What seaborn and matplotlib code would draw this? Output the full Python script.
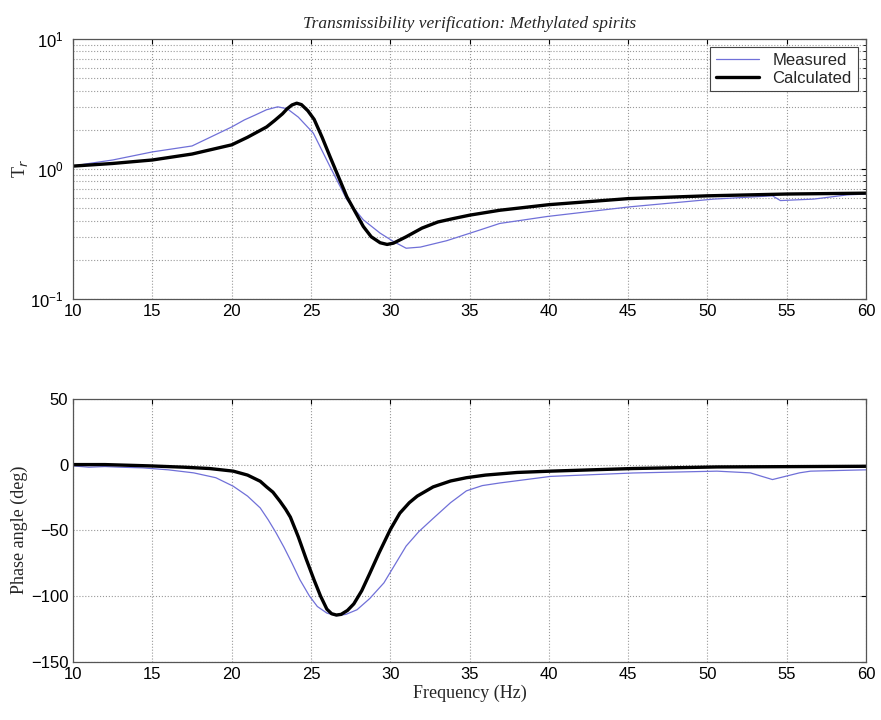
import numpy as np
import pandas as pd
import matplotlib as mpl
mpl.use('Agg')
import matplotlib.pyplot as plt
import seaborn as sns

# transmissibility magnitude
meas_f = [10, 11, 12.5, 15, 17.5, 20, 20.8, 21.5, 22.2, 22.9, 23.5, 24.2, 25.15, 26.2, 27.26, 28.3,
          29.36, 30.2, 31.0, 31.9, 33.56, 35.7, 36.9, 39.9, 45.1, 50.4, 54.1, 54.6, 56.7, 58.8, 60]
meas_T = [1.05, 1.1, 1.17, 1.35, 1.5, 2.1, 2.38, 2.6, 2.85, 3.0, 2.9, 2.5, 1.88, 1.04, 0.58, 0.405,
          0.32, 0.276, 0.245, 0.25, 0.28, 0.34, 0.38, 0.43, 0.51, 0.585, 0.62, 0.57, 0.585, 0.63, 0.64]
calc_f = [10, 12.5, 15, 17.5, 20, 21, 22.2, 22.7, 23.2, 23.5, 23.8, 24.1, 24.4, 24.8, 25.2, 25.7,
          26.2, 27.26, 28.3, 28.8, 29.36, 29.8, 30.2, 31, 32, 33, 34, 35, 36.9, 40, 45, 50, 55, 60]
calc_T = [1.05, 1.1, 1.17, 1.3, 1.53, 1.75, 2.1, 2.35, 2.65, 2.9, 3.1, 3.2, 3.12, 2.8, 2.4, 1.75,
          1.24, 0.61, 0.36, 0.3, 0.27, 0.262, 0.268, 0.3, 0.35, 0.39, 0.415, 0.44, 0.48, 0.53,
          0.59, 0.62, 0.64, 0.65]

# phase angle
meas_pf = [10, 11, 12, 13, 14.4, 16, 17.6, 19, 20.1, 21, 21.8, 22.3, 22.8, 23.3, 23.8, 24.3, 24.9,
           25.4, 26.0, 26.6, 27.2, 27.9, 28.7, 29.6, 30.3, 31.0, 31.8, 32.7, 33.8, 34.8, 35.8, 36.9,
           40.1, 45.3, 50.6, 52.7, 54.1, 55.8, 56.5, 60]
meas_ph = [-1, -2, -1.5, -2, -2.5, -4, -6.3, -10, -16.5, -24, -33, -42, -52, -63, -75, -87.6, -100,
           -108, -113, -115, -114, -110.5, -102, -90, -76, -62, -51, -41, -29, -20, -16, -14,
           -9, -6.4, -5, -6.3, -11.4, -6.3, -5, -4]
calc_pf = [10, 12, 14.85, 17, 18.6, 20.1, 21, 21.8, 22.2, 22.6, 23.05, 23.4, 23.7, 24.2, 24.7, 25.2,
           25.6, 26.0, 26.3, 26.6, 26.9, 27.3, 27.7, 28.2, 28.7, 29.3, 30.0, 30.6, 31.2, 31.7, 32.7,
           33.8, 34.8, 36, 38, 40.1, 45.3, 50.6, 60]
calc_ph = [0, 0, -1, -2, -3, -5, -8, -12.7, -17, -21, -28, -34, -40, -55, -72, -88,
           -100, -110, -113.5, -114.5, -114, -111, -106, -96, -83, -67, -49.5, -37, -29, -24, -17,
           -12.5, -10, -8, -6, -5, -3, -1.8, -1.3]

blue = '#7070d8'

sns.set_style('white')
plt.rcParams['font.family'] = ['Liberation Sans', 'DejaVu Sans']
plt.rcParams['mathtext.fontset'] = 'custom'
plt.rcParams['mathtext.rm'] = 'Liberation Sans'

fig = plt.figure(figsize=(8.81, 7.2), dpi=100)
ax1 = fig.add_axes([0.083, 0.585, 0.9, 0.361])
ax2 = fig.add_axes([0.083, 0.081, 0.9, 0.365])

sns.lineplot(x=meas_f, y=meas_T, ax=ax1, color=blue, linewidth=0.9, label='Measured')
sns.lineplot(x=calc_f, y=calc_T, ax=ax1, color='black', linewidth=2.4, label='Calculated')
ax1.set_yscale('log')
ax1.set_ylim(0.1, 10)

sns.lineplot(x=meas_pf, y=meas_ph, ax=ax2, color=blue, linewidth=0.9)
sns.lineplot(x=calc_pf, y=calc_ph, ax=ax2, color='black', linewidth=2.4)
ax2.set_ylim(-150, 50)
ax2.set_yticks([-150, -100, -50, 0, 50])

for ax in (ax1, ax2):
    ax.set_xlim(10, 60)
    ax.set_xticks(np.arange(10, 61, 5))
    ax.tick_params(which='both', direction='in', top=True, right=True, labelsize=12, colors='black')
    ax.tick_params(axis='x', pad=4)
    for s in ax.spines.values():
        s.set_color('#555555')
        s.set_linewidth(0.9)
    ax.set_xlabel('')
    ax.set_ylabel('')
ax1.tick_params(axis='y', pad=7)

ax1.grid(True, which='both', linestyle=':', color='0.6', linewidth=0.8)
ax2.grid(True, which='major', linestyle=':', color='0.6', linewidth=0.8)

leg = ax1.legend(loc='upper right', fontsize=12, fancybox=False, edgecolor='#444444',
                 framealpha=1, handlelength=2.6, borderpad=0.35, labelspacing=0.15)
leg.get_frame().set_linewidth(0.8)

ax1.set_title('Transmissibility verification: Methylated spirits', fontsize=12.5,
              family='Liberation Serif', style='italic', pad=8)
ax1.set_ylabel('T$_r$', family='Liberation Serif', fontsize=13, labelpad=0)
ax2.set_ylabel('Phase angle (deg)', family='Liberation Serif', fontsize=13, labelpad=2)
ax2.set_xlabel('Frequency (Hz)', family='Liberation Serif', fontsize=13, labelpad=2)

fig.savefig('out.png', dpi=100)
